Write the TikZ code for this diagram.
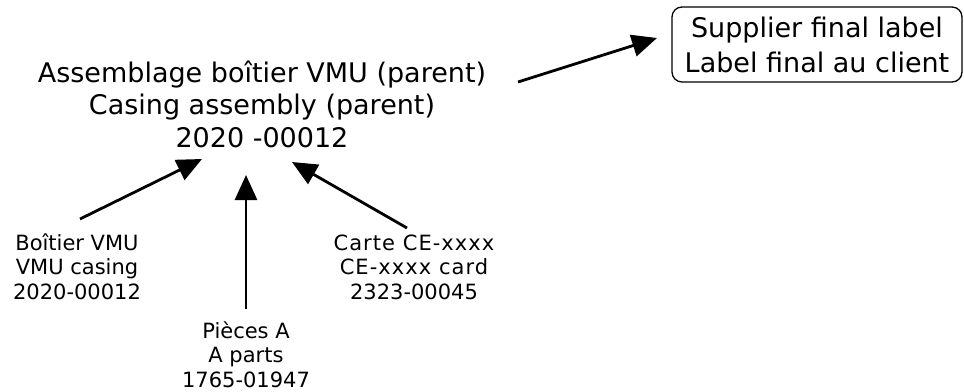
\documentclass[tikz,border=0pt]{standalone}
\usepackage{fontspec}
\setmainfont{DejaVu Sans}
\usetikzlibrary{arrows.meta}
\tikzset{
  big/.style={font=\fontsize{27}{32.5}\selectfont, align=center, inner sep=0pt},
  small/.style={font=\fontsize{21}{24.5}\selectfont, align=center, inner sep=0pt},
  conn/.style={line width=2.8pt, -{Triangle[length=25pt,width=22pt]}},
  labelbox/.style={draw, line width=1.3pt, rounded corners=10pt, minimum width=290pt, minimum height=75pt, inner sep=0pt, font=\fontsize{27}{35}\selectfont, align=center}
}
\begin{document}
\begin{tikzpicture}[x=1pt,y=-1pt]
\useasboundingbox (0,0) rectangle (964,391);
\node[big, anchor=base] (parent) at (262,147) {Assemblage boîtier VMU (parent)\\Casing assembly (parent)\\2020 -00012};
\node[labelbox] (final) at (817,44.5) {Supplier final label\\Label final au client};
\node[small, anchor=base] (casing) at (77,299) {Boîtier VMU\\VMU casing\\2020-00012};
\node[small, anchor=base] (parts) at (246,387) {Pièces A\\A parts\\1765-01947};
\node[small, anchor=base] (card) at (414,299) {{\addfontfeature{LetterSpace=5}Carte CE-xxxx}\\{\addfontfeature{LetterSpace=5}CE-xxxx card}\\2323-00045};
\coordinate (c1s) at (80,219);
\coordinate (c1t) at (202,159);
\coordinate (c2s) at (246,309);
\coordinate (c2t) at (246,175);
\coordinate (c3s) at (407,228);
\coordinate (c3t) at (292,162);
\coordinate (c4s) at (518,82);
\coordinate (c4t) at (657,38);
\draw[conn] (c1s) -- (c1t);
\draw[conn] (c2s) -- (c2t);
\draw[conn] (c3s) -- (c3t);
\draw[conn] (c4s) -- (c4t);
\end{tikzpicture}
\end{document}
